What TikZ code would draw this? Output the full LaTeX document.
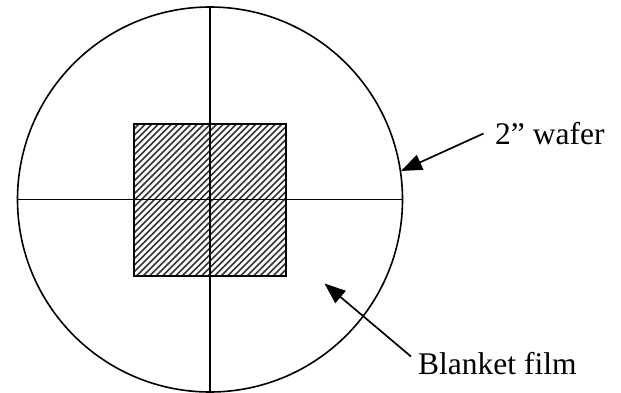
\documentclass[tikz,border=0pt]{standalone}
\usepackage{fontspec}
\setmainfont{Liberation Serif}
\usetikzlibrary{arrows.meta}
\tikzset{
  wafer/.style={line width=1.6pt},
  axisline/.style={line width=1.4pt},
  hatchline/.style={line width=1.7pt, black!80},
  filmbox/.style={line width=1.9pt},
  callout/.style={line width=1.7pt, -{Triangle[length=21pt,width=16pt]}},
  label/.style={inner sep=0pt, anchor=base west, font=\fontsize{31.5}{38}\selectfont}
}
\begin{document}
\begin{tikzpicture}[x=1pt,y=-1pt]
\useasboundingbox (0,0) rectangle (621,393);
% wafer
\coordinate (c) at (210,199.5);
\draw[wafer] (c) circle[radius=192.5];
% hatched film
\begin{scope}
  \clip (134,124) rectangle (286,276);
  \foreach \i in {0,...,50} {
    \draw[hatchline] (134-160+\i*6.5,276) -- ++(160,-160);
  }
\end{scope}
\draw[filmbox] (134,124) rectangle (286,276);
% axes
\draw[axisline] (17.5,199.5) -- (402.5,199.5);
\draw[axisline] (210,7) -- (210,392);
% labels
\node[label] (wl) at (495,145) {2'' wafer};
\node[label] (bl) at (418,374) {Blanket film};
\coordinate (ws) at (483.5,133.5);
\coordinate (wt) at (401,171);
\coordinate (bs) at (411,356.5);
\coordinate (bt) at (324.5,283.5);
\draw[callout] (ws) -- (wt);
\draw[callout] (bs) -- (bt);
\end{tikzpicture}
\end{document}
